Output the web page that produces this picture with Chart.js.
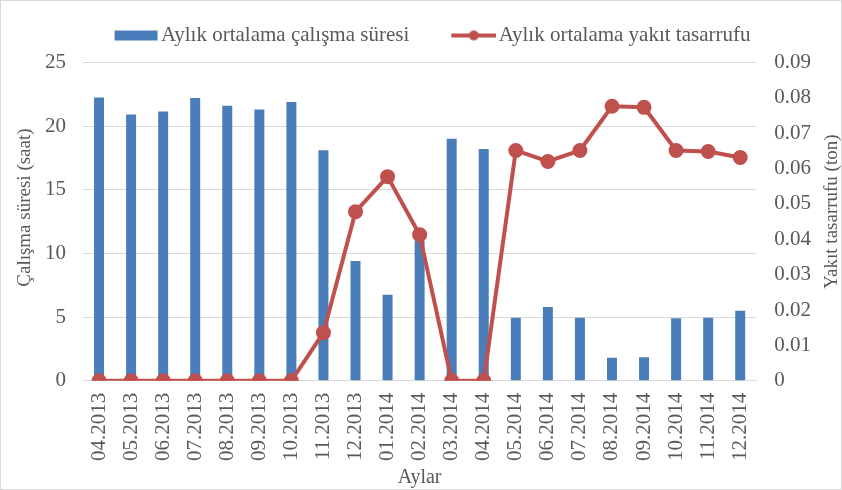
<!DOCTYPE html>
<html>
<head>
<meta charset="utf-8">
<script src="https://cdn.jsdelivr.net/npm/chart.js@4/dist/chart.umd.min.js"></script>
<style>
  html, body { margin: 0; padding: 0; background: #fff; }
  #wrap { width: 840px; height: 488px; border: 1px solid #d9d9d9; position: relative; }
</style>
</head>
<body>
<div id="wrap"><canvas id="chart" width="840" height="488"></canvas></div>
<script>
// months on the x axis
var months = ["04.2013", "05.2013", "06.2013", "07.2013", "08.2013", "09.2013", "10.2013",
  "11.2013", "12.2013", "01.2014", "02.2014", "03.2014", "04.2014", "05.2014", "06.2014",
  "07.2014", "08.2014", "09.2014", "10.2014", "11.2014", "12.2014"];

// monthly average working time (hours)
var workHours = [22.25, 20.9, 21.15, 22.2, 21.6, 21.3, 21.9, 18.1, 9.4, 6.75, 11.0,
  19.0, 18.2, 4.95, 5.8, 4.95, 1.8, 1.85, 4.9, 4.95, 5.5];

// monthly average fuel saving (tonnes)
var fuelSaving = [0, 0, 0, 0, 0, 0, 0, 0.0136, 0.0478, 0.0577, 0.0413, 0, 0,
  0.0651, 0.062, 0.0651, 0.0776, 0.0773, 0.0651, 0.0648, 0.0631];

var barColor = "#4a7ebb";
var lineColor = "#c0504d";
var textColor = "#595959";
var fontFamily = "'Liberation Serif', 'DejaVu Serif', serif";
var xTitle = "Aylar";
var leftTitle = "Çalışma süresi (saat)";
var rightTitle = "Yakıt tasarrufu (ton)";

// small pictures used as legend markers (blank strip on the left pulls them to the text)
var barIcon = document.createElement("canvas");
barIcon.width = 60;
barIcon.height = 12;
var bc = barIcon.getContext("2d");
bc.fillStyle = barColor;
bc.fillRect(16, 1, 43, 10);

var lineIcon = document.createElement("canvas");
lineIcon.width = 60;
lineIcon.height = 12;
var ic = lineIcon.getContext("2d");
ic.strokeStyle = lineColor;
ic.lineWidth = 4;
ic.beginPath();
ic.moveTo(15, 6);
ic.lineTo(60, 6);
ic.stroke();
ic.fillStyle = lineColor;
ic.beginPath();
ic.arc(37.5, 6, 5, 0, Math.PI * 2);
ic.fill();

// axis titles drawn by hand so the right one reads bottom-to-top like Excel
var axisTitles = {
  id: "axisTitles",
  afterDraw: function (c) {
    var g = c.ctx;
    var area = c.chartArea;
    var midY = (area.top + area.bottom) / 2;
    g.save();
    g.fillStyle = textColor;
    g.font = "20px " + fontFamily;
    g.textAlign = "center";
    g.textBaseline = "middle";
    g.fillText(xTitle, (area.left + area.right) / 2, c.height - 11);
    g.font = "19px " + fontFamily;
    g.translate(24, midY - 14);
    g.rotate(-Math.PI / 2);
    g.fillText(leftTitle, 0, 0);
    g.restore();
    g.save();
    g.fillStyle = textColor;
    g.font = "19px " + fontFamily;
    g.textAlign = "center";
    g.textBaseline = "middle";
    g.translate(c.width - 9, midY - 10);
    g.rotate(-Math.PI / 2);
    g.fillText(rightTitle, 0, 0);
    g.restore();
  }
};

var ctx = document.getElementById("chart").getContext("2d");
var chart = new Chart(ctx, {
  data: {
    labels: months,
    datasets: [
      {
        type: "bar",
        label: "Aylık ortalama çalışma süresi",
        data: workHours,
        backgroundColor: barColor,
        yAxisID: "y",
        barPercentage: 0.6,
        categoryPercentage: 0.52,
        order: 2
      },
      {
        type: "line",
        label: "Aylık ortalama yakıt tasarrufu",
        data: fuelSaving,
        borderColor: lineColor,
        backgroundColor: lineColor,
        borderWidth: 4,
        pointRadius: 5.5,
        pointHoverRadius: 5.5,
        tension: 0,
        yAxisID: "y1",
        order: 1
      }
    ]
  },
  plugins: [axisTitles],
  options: {
    responsive: false,
    animation: false,
    layout: { padding: { top: 10, left: 27, right: 12, bottom: 16 } },
    plugins: {
      tooltip: { enabled: false },
      // empty title used only as a spacer between legend and plot
      title: {
        display: true,
        text: "",
        weight: 500,
        font: { size: 2 },
        padding: { top: 4, bottom: 0 }
      },
      legend: {
        position: "top",
        labels: {
          color: textColor,
          font: { family: fontFamily, size: 21 },
          usePointStyle: true,
          pointStyleWidth: 44,
          padding: 14,
          sort: function (a, b) { return a.datasetIndex - b.datasetIndex; },
          generateLabels: function (c) {
            var list = Chart.defaults.plugins.legend.labels.generateLabels(c);
            list.forEach(function (item) {
              item.pointStyle = item.datasetIndex === 0 ? barIcon : lineIcon;
              if (item.datasetIndex === 0) item.text += "\u2002\u2002";
            });
            return list;
          }
        }
      }
    },
    scales: {
      x: {
        grid: { display: false, drawTicks: false },
        border: { display: true, color: "#d9d9d9" },
        ticks: {
          color: textColor,
          font: { family: fontFamily, size: 21 },
          maxRotation: 90,
          minRotation: 90,
          autoSkip: false,
          padding: 12
        }
      },
      y: {
        position: "left",
        min: 0,
        max: 25,
        ticks: {
          stepSize: 5,
          color: textColor,
          font: { family: fontFamily, size: 21 },
          padding: 17
        },
        grid: { color: "#d9d9d9", drawTicks: false },
        border: { display: false }
      },
      y1: {
        position: "right",
        min: 0,
        max: 0.09,
        ticks: {
          stepSize: 0.01,
          color: textColor,
          font: { family: fontFamily, size: 21 },
          padding: 18,
          callback: function (v) {
            return v === 0 ? "0" : v.toFixed(2);
          }
        },
        grid: { display: false, drawTicks: false },
        border: { display: false }
      }
    }
  }
});
</script>
</body>
</html>
